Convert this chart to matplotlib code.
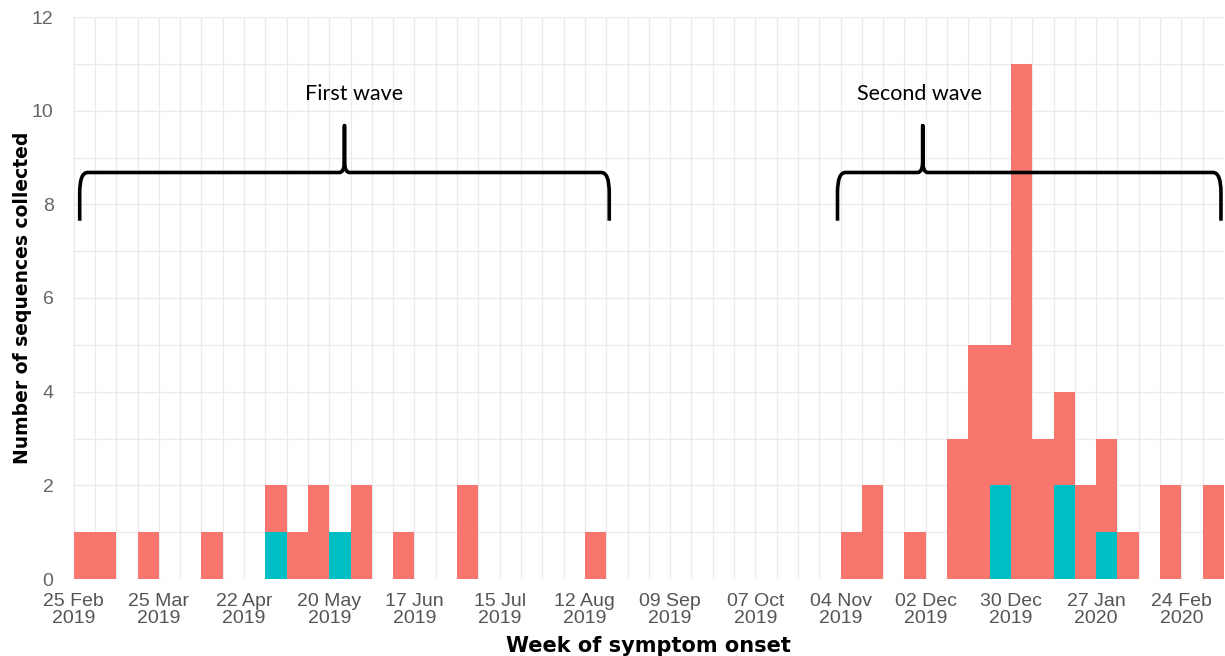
import matplotlib
matplotlib.use("Agg")
import matplotlib.pyplot as plt
import matplotlib.dates as mdates
from matplotlib.path import Path
from matplotlib.patches import PathPatch
import numpy as np
import datetime as dt

# ---- data ----
start_week = dt.date(2019, 2, 25)
n_weeks = 54
week_starts = [start_week + dt.timedelta(days=7 * i) for i in range(n_weeks)]

red_counts = [1, 1, 0, 1, 0, 0, 1, 0, 0, 1,
              1, 2, 0, 2, 0, 1, 0, 0, 2, 0,
              0, 0, 0, 0, 1, 0, 0, 0, 0, 0,
              0, 0, 0, 0, 0, 0, 1, 2, 0, 1,
              0, 3, 5, 3, 11, 3, 2, 2, 2, 1,
              0, 2, 0, 2]
cyan_counts = [0, 0, 0, 0, 0, 0, 0, 0, 0, 1,
               0, 0, 1, 0, 0, 0, 0, 0, 0, 0,
               0, 0, 0, 0, 0, 0, 0, 0, 0, 0,
               0, 0, 0, 0, 0, 0, 0, 0, 0, 0,
               0, 0, 0, 2, 0, 0, 2, 0, 1, 0,
               0, 0, 0, 0]

tick_dates = [start_week + dt.timedelta(days=28 * i) for i in range(14)]

wave_labels = ["First wave", "Second wave"]
wave_label_dates = [dt.date(2019, 5, 28), dt.date(2019, 11, 30)]
# brace: (left date, right date, tip date)
brace_spans = [(dt.date(2019, 2, 27), dt.date(2019, 8, 20), dt.date(2019, 5, 25)),
               (dt.date(2019, 11, 3), dt.date(2020, 3, 8), dt.date(2019, 12, 1))]

RED = "#F8766D"
CYAN = "#00BFC4"

fig = plt.figure(figsize=(12.25, 6.56), dpi=100)
W, H = 1225, 656
ax = fig.add_axes([73 / W, 1 - 579 / H, (1224 - 73) / W, (579 - 17) / H])

x = mdates.date2num(week_starts)
cyan = np.array(cyan_counts)
red = np.array(red_counts)
ax.bar(x, cyan, width=7, align="edge", color=CYAN, linewidth=0, zorder=3)
ax.bar(x, red, width=7, bottom=cyan, align="edge", color=RED, linewidth=0, zorder=3)

x0 = mdates.date2num(start_week)
ax.set_xlim(x0 - 0.2, x0 + n_weeks * 7)
ax.set_ylim(0, 12)

ax.set_xticks(mdates.date2num(tick_dates))
ax.set_xticklabels([d.strftime("%d %b\n%Y") for d in tick_dates])
ax.set_xticks(x, minor=True)
ax.set_yticks(range(0, 13, 2))
ax.set_yticks(range(1, 12, 2), minor=True)

ax.grid(True, which="both", color="#EBEBEB", linewidth=1.0, zorder=0)
for s in ax.spines.values():
    s.set_visible(False)
ax.tick_params(which="both", length=0)
ax.tick_params(axis="x", labelsize=14, labelcolor="#555555", pad=10)
ax.tick_params(axis="y", labelsize=14, labelcolor="#666666", pad=14)
for lab in ax.get_xticklabels():
    lab.set_fontfamily("Liberation Sans")
    lab.set_linespacing(0.98)
for lab in ax.get_yticklabels():
    lab.set_fontfamily("Liberation Sans")

ax.set_xlabel("Week of symptom onset", fontsize=15, fontweight="bold",
              family="DejaVu Sans", labelpad=7)
ax.set_ylabel("Number of sequences collected", fontsize=13.5, fontweight="bold",
              family="DejaVu Sans")
ax.yaxis.set_label_coords((32 - 73) / (1224 - 73), 0.5)

# ---- braces (annotation) ----
px_x = 7 / 21.3   # days per pixel
px_y = 1 / 46.75  # units per pixel
y_bar = 8.68
y_end = 7.65
y_tip = 9.68
for (l, r, t), lab, ld in zip(brace_spans, wave_labels, wave_label_dates):
    L, R, T = mdates.date2num([l, r, t])
    rx, ry = 8 * px_x, 20 * px_y
    tx, ty = 5 * px_x, 12 * px_y
    verts = [
        (L, y_end), (L, y_bar - ry), (L, y_bar), (L + rx, y_bar),
        (T - tx, y_bar), (T, y_bar), (T, y_bar + ty), (T, y_tip),
        (T, y_bar + ty), (T, y_bar), (T + tx, y_bar),
        (R - rx, y_bar), (R, y_bar), (R, y_bar - ry), (R, y_end),
    ]
    codes = [Path.MOVETO, Path.LINETO, Path.CURVE3, Path.CURVE3,
             Path.LINETO, Path.CURVE3, Path.CURVE3, Path.LINETO,
             Path.LINETO, Path.CURVE3, Path.CURVE3,
             Path.LINETO, Path.CURVE3, Path.CURVE3, Path.LINETO]
    ax.add_patch(PathPatch(Path(verts, codes), fill=False, edgecolor="black",
                           linewidth=2.6, capstyle="butt", joinstyle="round",
                           zorder=5))
    ax.text(mdates.date2num(ld), 10.35, lab, ha="center", va="center",
            fontsize=15.5, family="Lato", color="black", zorder=6)

fig.savefig("out.png", dpi=100, facecolor="white")
